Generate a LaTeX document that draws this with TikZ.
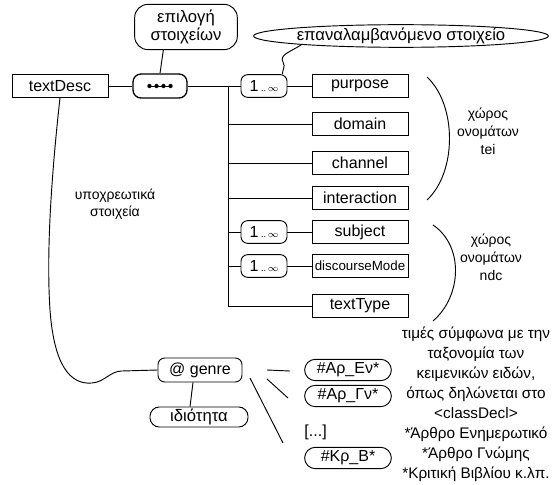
\documentclass[tikz,border=0pt]{standalone}
\usepackage{fontspec}
\setmainfont{Liberation Sans}
\usepackage{tikz}
\usetikzlibrary{shapes.geometric}

\begin{document}
\begin{tikzpicture}[x=0.75pt, y=-0.75pt, line width=0.7pt,
    elem/.style={draw, rectangle, minimum width=72pt, minimum height=17pt, inner sep=0pt, font=\fontsize{12}{14}\selectfont},
    card/.style={draw, rounded corners=5pt, minimum width=34.5pt, minimum height=17pt, inner sep=0pt, font=\fontsize{12}{14}\selectfont},
    seqbox/.style={draw, rounded corners=6pt, line width=1pt, minimum width=40.5pt, minimum height=18pt, inner sep=0pt},
    bubble/.style={draw, rounded corners=7pt, inner sep=0pt, font=\fontsize{12}{14}\selectfont},
    note/.style={align=center, inner sep=0pt}]
    \useasboundingbox (0, 0) rectangle (554, 485);

    % schema tree
    \node[elem] (textDesc) at (60, 86) {textDesc};
    \node[seqbox] (seq) at (160, 86) {};
    \draw ([xshift=-7.5pt]seq.center) -- ([xshift=7.5pt]seq.center);
    \foreach \dx in {-7.9, -2.6, 2.6, 7.9}
        \fill ([xshift=\dx pt]seq.center) circle (1.6pt);
    \coordinate (fork) at (228, 86);

    \node[card] (cPurpose) at (264, 86) {1\,{\scriptsize ..\,$\infty$}};
    \node[card] (cSubject) at (264, 232) {1\,{\scriptsize ..\,$\infty$}};
    \node[card] (cDiscourse) at (264, 266) {1\,{\scriptsize ..\,$\infty$}};

    \node[elem] (purpose) at (360, 86) {purpose};
    \node[elem] (domain) at (360, 124) {domain};
    \node[elem] (channel) at (360, 163) {channel};
    \node[elem] (interaction) at (360, 198) {interaction};
    \node[elem] (subject) at (360, 232) {subject};
    \node[elem, font=\fontsize{10}{12}\selectfont] (discourseMode) at (360, 266) {discourseMode};
    \node[elem] (textType) at (360, 306) {textType};

    \draw (textDesc) -- (seq);
    \draw (seq) -- (cPurpose) -- (purpose);
    \draw (fork) |- (domain.west)
          (fork) |- (channel.west)
          (fork) |- (interaction.west)
          (fork) |- (cSubject.west)
          (fork) |- (cDiscourse.west)
          (fork) |- (textType.west);
    \draw (cSubject) -- (subject);
    \draw (cDiscourse) -- (discourseMode);

    % callouts
    \node[bubble, rounded corners=10pt, minimum width=77pt, minimum height=34pt, align=center,
          font=\fontsize{12.5}{13}\selectfont] (choice) at (186, 27) {επιλογή\\στοιχείων};
    \draw ([xshift=-17pt]choice.south) -- (seq.north);
    \node[draw, ellipse, inner sep=0pt, minimum width=219pt, minimum height=16.5pt,
          font=\fontsize{12.5}{14}\selectfont] (repeat) at (401, 36) {επαναλαμβανόμενο στοιχείο};
    \draw (repeat.-175) .. controls (290, 52) and (279, 55) .. (283, 62)
          .. controls (286, 67) and (282, 70) .. ([xshift=-3.75pt]cPurpose.north east);

    % namespaces
    \draw (427, 77) .. controls (457, 105) and (457, 172) .. (427, 200);
    \node[note, font=\fontsize{10.5}{13.5}\selectfont] (nsTei) at (488, 131) {χώρος\\ονομάτων\\tei};
    \draw (433, 225) .. controls (464, 246) and (462, 296) .. (433, 321);
    \node[note, font=\fontsize{10.5}{13.5}\selectfont] (nsNdc) at (491, 257) {χώρος\\ονομάτων\\ndc};
    \node[note, font=\fontsize{10.5}{12.5}\selectfont] (mandatory) at (115, 204) {υποχρεωτικά\\στοιχεία};

    % attribute
    \node[bubble, rounded corners=5pt, minimum width=63pt, minimum height=18pt] (genre) at (200, 370) {@ genre};
    \draw (textDesc.south) .. controls (52, 170) and (46, 250) .. (50, 310)
          .. controls (54, 365) and (70, 385) .. (92, 383)
          .. controls (105, 382) and (110, 371) .. (122, 371) -- (genre.west);
    \node[bubble, minimum width=73.5pt, minimum height=15pt, font=\fontsize{12.5}{14}\selectfont] (attr) at (199, 417) {ιδιότητα};
    \draw ([xshift=-5.25pt]genre.south) -- ([xshift=-6.75pt]attr.north);

    % values
    \node[bubble, rounded corners=8pt, minimum width=65pt, minimum height=16pt] (vEv) at (348, 370) {\#Αρ\_Εν*};
    \node[bubble, rounded corners=8pt, minimum width=65pt, minimum height=16pt] (vGn) at (348, 396) {\#Αρ\_Γν*};
    \node[note, anchor=west, font=\fontsize{12}{14}\selectfont] (vMore) at (304, 432) {[...]};
    \node[bubble, rounded corners=8pt, minimum width=65pt, minimum height=16pt] (vKr) at (348, 458) {\#Κρ\_Β*};
    \coordinate (l1a) at (267, 370); \coordinate (l1b) at (290, 371);
    \coordinate (l2a) at (267, 379); \coordinate (l2b) at (288, 398);
    \coordinate (l3a) at (250, 378); \coordinate (l3b) at (283, 443);
    \draw (l1a) -- (l1b)
          (l2a) -- (l2b)
          (l3a) -- (l3b);
    \node[note, font=\fontsize{11.5}{15}\selectfont] (values) at (476, 404)
        {τιμές σύμφωνα με την\\ταξονομία των\\κειμενικών ειδών,\\όπως δηλώνεται στο\\<classDecl>\\*Άρθρο Ενημερωτικό\\*Άρθρο Γνώμης\\*Κριτική Βιβλίου κ.λπ.};
\end{tikzpicture}
\end{document}
